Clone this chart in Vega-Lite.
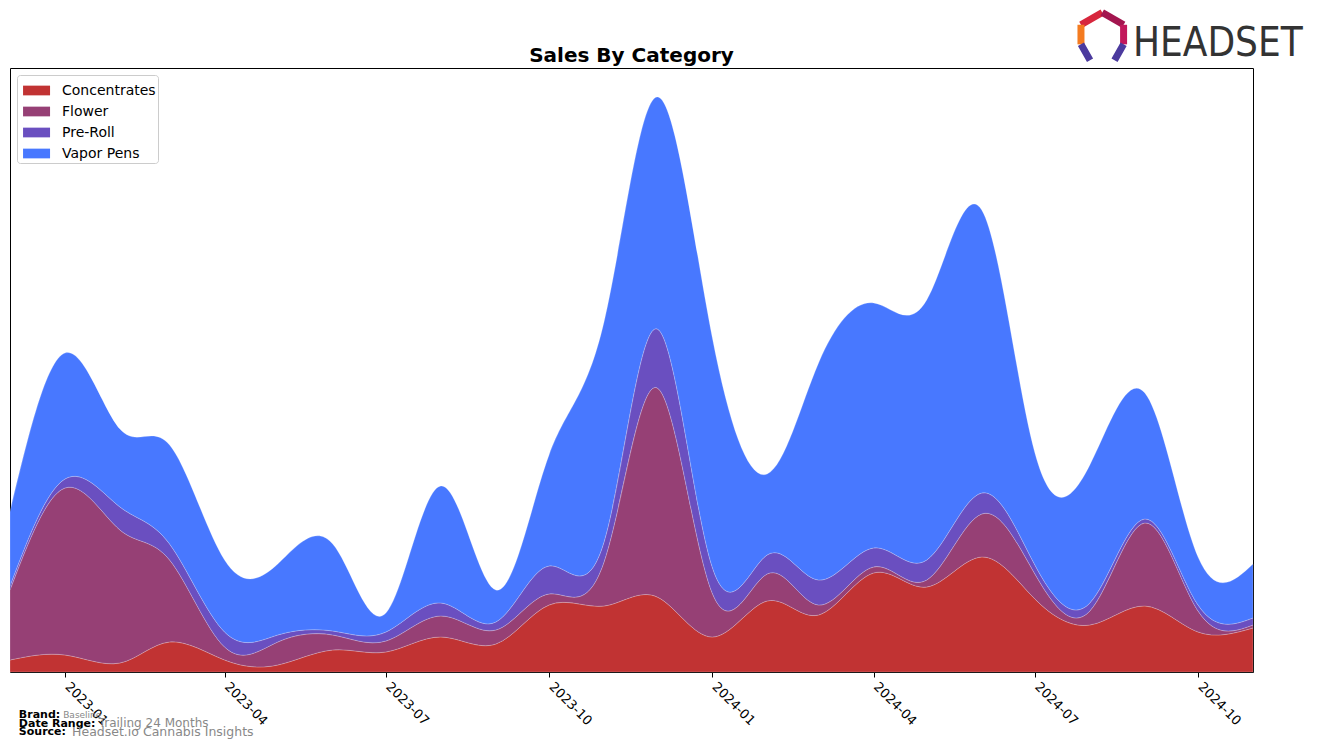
{
  "$schema": "https://vega.github.io/schema/vega-lite/v6.json",
  "width": 1243,
  "height": 604,
  "autosize": "none",
  "padding": {"left": 10, "top": 68, "right": 64, "bottom": 77},
  "background": "white",
  "config": {"view": {"stroke": "black", "strokeWidth": 1}, "font": "DejaVu Sans"},
  "title": {"text": "Sales By Category", "fontSize": 20, "fontWeight": "bold", "font": "DejaVu Sans", "color": "black", "anchor": "middle", "offset": 6, "dy": 73},
  "layer": [
    {
      "data": {"values": [
        {"date": "2022-12-01", "category": "Concentrates", "sales": 12},
        {"date": "2023-01-01", "category": "Concentrates", "sales": 17},
        {"date": "2023-02-01", "category": "Concentrates", "sales": 9},
        {"date": "2023-03-01", "category": "Concentrates", "sales": 30},
        {"date": "2023-04-01", "category": "Concentrates", "sales": 12},
        {"date": "2023-05-01", "category": "Concentrates", "sales": 7},
        {"date": "2023-06-01", "category": "Concentrates", "sales": 22},
        {"date": "2023-07-01", "category": "Concentrates", "sales": 20},
        {"date": "2023-08-01", "category": "Concentrates", "sales": 35},
        {"date": "2023-09-01", "category": "Concentrates", "sales": 28},
        {"date": "2023-10-01", "category": "Concentrates", "sales": 67},
        {"date": "2023-11-01", "category": "Concentrates", "sales": 66},
        {"date": "2023-12-01", "category": "Concentrates", "sales": 75},
        {"date": "2024-01-01", "category": "Concentrates", "sales": 35},
        {"date": "2024-02-01", "category": "Concentrates", "sales": 71},
        {"date": "2024-03-01", "category": "Concentrates", "sales": 57},
        {"date": "2024-04-01", "category": "Concentrates", "sales": 99},
        {"date": "2024-05-01", "category": "Concentrates", "sales": 85},
        {"date": "2024-06-01", "category": "Concentrates", "sales": 115},
        {"date": "2024-07-01", "category": "Concentrates", "sales": 73},
        {"date": "2024-08-01", "category": "Concentrates", "sales": 47},
        {"date": "2024-09-01", "category": "Concentrates", "sales": 66},
        {"date": "2024-10-01", "category": "Concentrates", "sales": 40},
        {"date": "2024-11-01", "category": "Concentrates", "sales": 44},
        {"date": "2022-12-01", "category": "Flower", "sales": 70},
        {"date": "2023-01-01", "category": "Flower", "sales": 167},
        {"date": "2023-02-01", "category": "Flower", "sales": 133},
        {"date": "2023-03-01", "category": "Flower", "sales": 82},
        {"date": "2023-04-01", "category": "Flower", "sales": 13},
        {"date": "2023-05-01", "category": "Flower", "sales": 23},
        {"date": "2023-06-01", "category": "Flower", "sales": 15},
        {"date": "2023-07-01", "category": "Flower", "sales": 11},
        {"date": "2023-08-01", "category": "Flower", "sales": 21},
        {"date": "2023-09-01", "category": "Flower", "sales": 14},
        {"date": "2023-10-01", "category": "Flower", "sales": 11},
        {"date": "2023-11-01", "category": "Flower", "sales": 44},
        {"date": "2023-12-01", "category": "Flower", "sales": 209},
        {"date": "2024-01-01", "category": "Flower", "sales": 44},
        {"date": "2024-02-01", "category": "Flower", "sales": 27},
        {"date": "2024-03-01", "category": "Flower", "sales": 10},
        {"date": "2024-04-01", "category": "Flower", "sales": 6},
        {"date": "2024-05-01", "category": "Flower", "sales": 7},
        {"date": "2024-06-01", "category": "Flower", "sales": 43},
        {"date": "2024-07-01", "category": "Flower", "sales": 25},
        {"date": "2024-08-01", "category": "Flower", "sales": 14},
        {"date": "2024-09-01", "category": "Flower", "sales": 83},
        {"date": "2024-10-01", "category": "Flower", "sales": 21},
        {"date": "2024-11-01", "category": "Flower", "sales": 3},
        {"date": "2022-12-01", "category": "Pre-Roll", "sales": 4},
        {"date": "2023-01-01", "category": "Pre-Roll", "sales": 9},
        {"date": "2023-02-01", "category": "Pre-Roll", "sales": 23},
        {"date": "2023-03-01", "category": "Pre-Roll", "sales": 16},
        {"date": "2023-04-01", "category": "Pre-Roll", "sales": 15},
        {"date": "2023-05-01", "category": "Pre-Roll", "sales": 7},
        {"date": "2023-06-01", "category": "Pre-Roll", "sales": 4},
        {"date": "2023-07-01", "category": "Pre-Roll", "sales": 9},
        {"date": "2023-08-01", "category": "Pre-Roll", "sales": 13},
        {"date": "2023-09-01", "category": "Pre-Roll", "sales": 8},
        {"date": "2023-10-01", "category": "Pre-Roll", "sales": 28},
        {"date": "2023-11-01", "category": "Pre-Roll", "sales": 20},
        {"date": "2023-12-01", "category": "Pre-Roll", "sales": 59},
        {"date": "2024-01-01", "category": "Pre-Roll", "sales": 26},
        {"date": "2024-02-01", "category": "Pre-Roll", "sales": 19},
        {"date": "2024-03-01", "category": "Pre-Roll", "sales": 25},
        {"date": "2024-04-01", "category": "Pre-Roll", "sales": 19},
        {"date": "2024-05-01", "category": "Pre-Roll", "sales": 20},
        {"date": "2024-06-01", "category": "Pre-Roll", "sales": 21},
        {"date": "2024-07-01", "category": "Pre-Roll", "sales": 9},
        {"date": "2024-08-01", "category": "Pre-Roll", "sales": 8},
        {"date": "2024-09-01", "category": "Pre-Roll", "sales": 4},
        {"date": "2024-10-01", "category": "Pre-Roll", "sales": 6},
        {"date": "2024-11-01", "category": "Pre-Roll", "sales": 7},
        {"date": "2022-12-01", "category": "Vapor Pens", "sales": 74},
        {"date": "2023-01-01", "category": "Vapor Pens", "sales": 126},
        {"date": "2023-02-01", "category": "Vapor Pens", "sales": 78},
        {"date": "2023-03-01", "category": "Vapor Pens", "sales": 99},
        {"date": "2023-04-01", "category": "Vapor Pens", "sales": 72},
        {"date": "2023-05-01", "category": "Vapor Pens", "sales": 71},
        {"date": "2023-06-01", "category": "Vapor Pens", "sales": 87},
        {"date": "2023-07-01", "category": "Vapor Pens", "sales": 19},
        {"date": "2023-08-01", "category": "Vapor Pens", "sales": 117},
        {"date": "2023-09-01", "category": "Vapor Pens", "sales": 32},
        {"date": "2023-10-01", "category": "Vapor Pens", "sales": 111},
        {"date": "2023-11-01", "category": "Vapor Pens", "sales": 220},
        {"date": "2023-12-01", "category": "Vapor Pens", "sales": 232},
        {"date": "2024-01-01", "category": "Vapor Pens", "sales": 230},
        {"date": "2024-02-01", "category": "Vapor Pens", "sales": 81},
        {"date": "2024-03-01", "category": "Vapor Pens", "sales": 217},
        {"date": "2024-04-01", "category": "Vapor Pens", "sales": 245},
        {"date": "2024-05-01", "category": "Vapor Pens", "sales": 260},
        {"date": "2024-06-01", "category": "Vapor Pens", "sales": 283},
        {"date": "2024-07-01", "category": "Vapor Pens", "sales": 112},
        {"date": "2024-08-01", "category": "Vapor Pens", "sales": 138},
        {"date": "2024-09-01", "category": "Vapor Pens", "sales": 126},
        {"date": "2024-10-01", "category": "Vapor Pens", "sales": 48},
        {"date": "2024-11-01", "category": "Vapor Pens", "sales": 54}
      ]},
      "mark": {"type": "area", "interpolate": "natural", "stroke": "white", "strokeWidth": 0.6, "strokeOpacity": 0.35},
      "encoding": {
        "x": {
          "field": "date", "type": "temporal",
          "scale": {"type": "utc", "domain": [{"year": 2022, "month": 12, "date": 1, "utc": true}, {"year": 2024, "month": 11, "date": 1, "utc": true}], "nice": false},
          "axis": {"title": null, "format": "%Y-%m", "tickCount": {"interval": "month", "step": 3}, "labelAngle": 45, "labelAlign": "left", "labelBaseline": "top", "labelFontSize": 13, "labelColor": "black", "labelFont": "DejaVu Sans", "tickColor": "black", "tickSize": 5, "domain": false, "grid": false, "labelPadding": 3, "labelOffset": 6, "labelOverlap": false, "labelFlush": false, "labelBound": false}
        },
        "y": {"field": "sales", "type": "quantitative", "stack": "zero", "scale": {"domain": [0, 604], "nice": false}, "axis": null},
        "order": {"field": "category", "sort": "ascending"},
        "color": {
          "field": "category", "type": "nominal",
          "scale": {"domain": ["Concentrates", "Flower", "Pre-Roll", "Vapor Pens"], "range": ["#C13333", "#964075", "#6A4FC0", "#4878FF"]},
          "legend": {"orient": "top-left", "offset": 7, "title": null, "labelFontSize": 14, "labelFont": "DejaVu Sans", "labelColor": "black", "symbolType": "M-0.7,-0.36H1.3V0.36H-0.7Z", "symbolSize": 729, "symbolStrokeWidth": 0, "symbolOpacity": 1, "fillColor": "white", "strokeColor": "#cccccc", "cornerRadius": 3, "padding": 2, "rowPadding": 0, "labelOffset": 16}
        }
      }
    },
    {
      "data": {"values": [{"label": "Brand:"}]},
      "mark": {"type": "text", "align": "left", "baseline": "alphabetic", "fontWeight": "bold", "fontSize": 11, "color": "black"},
      "encoding": {
        "x": {"datum": {"year": 2022, "month": 12, "date": 6, "utc": true}, "type": "temporal"},
        "y": {"datum": -46, "type": "quantitative"},
        "text": {"field": "label"}
      }
    },
    {
      "data": {"values": [{"label": "Date Range:"}]},
      "mark": {"type": "text", "align": "left", "baseline": "alphabetic", "fontWeight": "bold", "fontSize": 11, "color": "black"},
      "encoding": {
        "x": {"datum": {"year": 2022, "month": 12, "date": 6, "utc": true}, "type": "temporal"},
        "y": {"datum": -55, "type": "quantitative"},
        "text": {"field": "label"}
      }
    },
    {
      "data": {"values": [{"label": "Source:"}]},
      "mark": {"type": "text", "align": "left", "baseline": "alphabetic", "fontWeight": "bold", "fontSize": 11, "color": "black"},
      "encoding": {
        "x": {"datum": {"year": 2022, "month": 12, "date": 6, "utc": true}, "type": "temporal"},
        "y": {"datum": -63, "type": "quantitative"},
        "text": {"field": "label"}
      }
    },
    {
      "data": {"values": [{"label": "Baseline"}]},
      "mark": {"type": "text", "align": "left", "baseline": "alphabetic", "fontSize": 9, "color": "#888888"},
      "encoding": {
        "x": {"datum": {"year": 2022, "month": 12, "date": 31, "utc": true}, "type": "temporal"},
        "y": {"datum": -46, "type": "quantitative"},
        "text": {"field": "label"}
      }
    },
    {
      "data": {"values": [{"label": "Trailing 24 Months"}]},
      "mark": {"type": "text", "align": "left", "baseline": "alphabetic", "fontSize": 12, "color": "#888888"},
      "encoding": {
        "x": {"datum": {"year": 2023, "month": 1, "date": 20, "utc": true}, "type": "temporal"},
        "y": {"datum": -55, "type": "quantitative"},
        "text": {"field": "label"}
      }
    },
    {
      "data": {"values": [{"label": "Headset.io Cannabis Insights"}]},
      "mark": {"type": "text", "align": "left", "baseline": "alphabetic", "fontSize": 12.5, "color": "#888888"},
      "encoding": {
        "x": {"datum": {"year": 2023, "month": 1, "date": 5, "utc": true}, "type": "temporal"},
        "y": {"datum": -64, "type": "quantitative"},
        "text": {"field": "label"}
      }
    },
    {
      "data": {"values": [{"label": "HEADSET"}]},
      "mark": {"type": "text", "align": "right", "baseline": "alphabetic", "fontSize": 40, "font": "DejaVu Sans Condensed", "color": "#333333"},
      "encoding": {
        "x": {"datum": {"year": 2024, "month": 11, "date": 29, "utc": true}, "type": "temporal"},
        "y": {"datum": 616, "type": "quantitative"},
        "text": {"field": "label"}
      }
    },
    {
      "data": {"values": [{"part": "top-left"}]},
      "mark": {"type": "point", "shape": "M-0.87,-0.5L0,-1", "size": 2400, "filled": false, "stroke": "#D7263D", "strokeWidth": 7, "opacity": 1},
      "encoding": {
        "x": {"datum": {"year": 2024, "month": 8, "date": 8, "utc": true}, "type": "temporal"},
        "y": {"datum": 635, "type": "quantitative"}
      }
    },
    {
      "data": {"values": [{"part": "top-right"}]},
      "mark": {"type": "point", "shape": "M0,-1L0.87,-0.5", "size": 2400, "filled": false, "stroke": "#A3154F", "strokeWidth": 7, "opacity": 1},
      "encoding": {
        "x": {"datum": {"year": 2024, "month": 8, "date": 8, "utc": true}, "type": "temporal"},
        "y": {"datum": 635, "type": "quantitative"}
      }
    },
    {
      "data": {"values": [{"part": "left"}]},
      "mark": {"type": "point", "shape": "M-0.87,-0.5L-0.87,0.3", "size": 2400, "filled": false, "stroke": "#F47B20", "strokeWidth": 7, "opacity": 1},
      "encoding": {
        "x": {"datum": {"year": 2024, "month": 8, "date": 8, "utc": true}, "type": "temporal"},
        "y": {"datum": 635, "type": "quantitative"}
      }
    },
    {
      "data": {"values": [{"part": "right"}]},
      "mark": {"type": "point", "shape": "M0.87,-0.5L0.87,0.3", "size": 2400, "filled": false, "stroke": "#C2185B", "strokeWidth": 7, "opacity": 1},
      "encoding": {
        "x": {"datum": {"year": 2024, "month": 8, "date": 8, "utc": true}, "type": "temporal"},
        "y": {"datum": 635, "type": "quantitative"}
      }
    },
    {
      "data": {"values": [{"part": "feet"}]},
      "mark": {"type": "point", "shape": "M-0.87,0.3L-0.5,0.95M0.87,0.3L0.5,0.95", "size": 2400, "filled": false, "stroke": "#4B3A9E", "strokeWidth": 7, "opacity": 1},
      "encoding": {
        "x": {"datum": {"year": 2024, "month": 8, "date": 8, "utc": true}, "type": "temporal"},
        "y": {"datum": 635, "type": "quantitative"}
      }
    }
  ]
}
